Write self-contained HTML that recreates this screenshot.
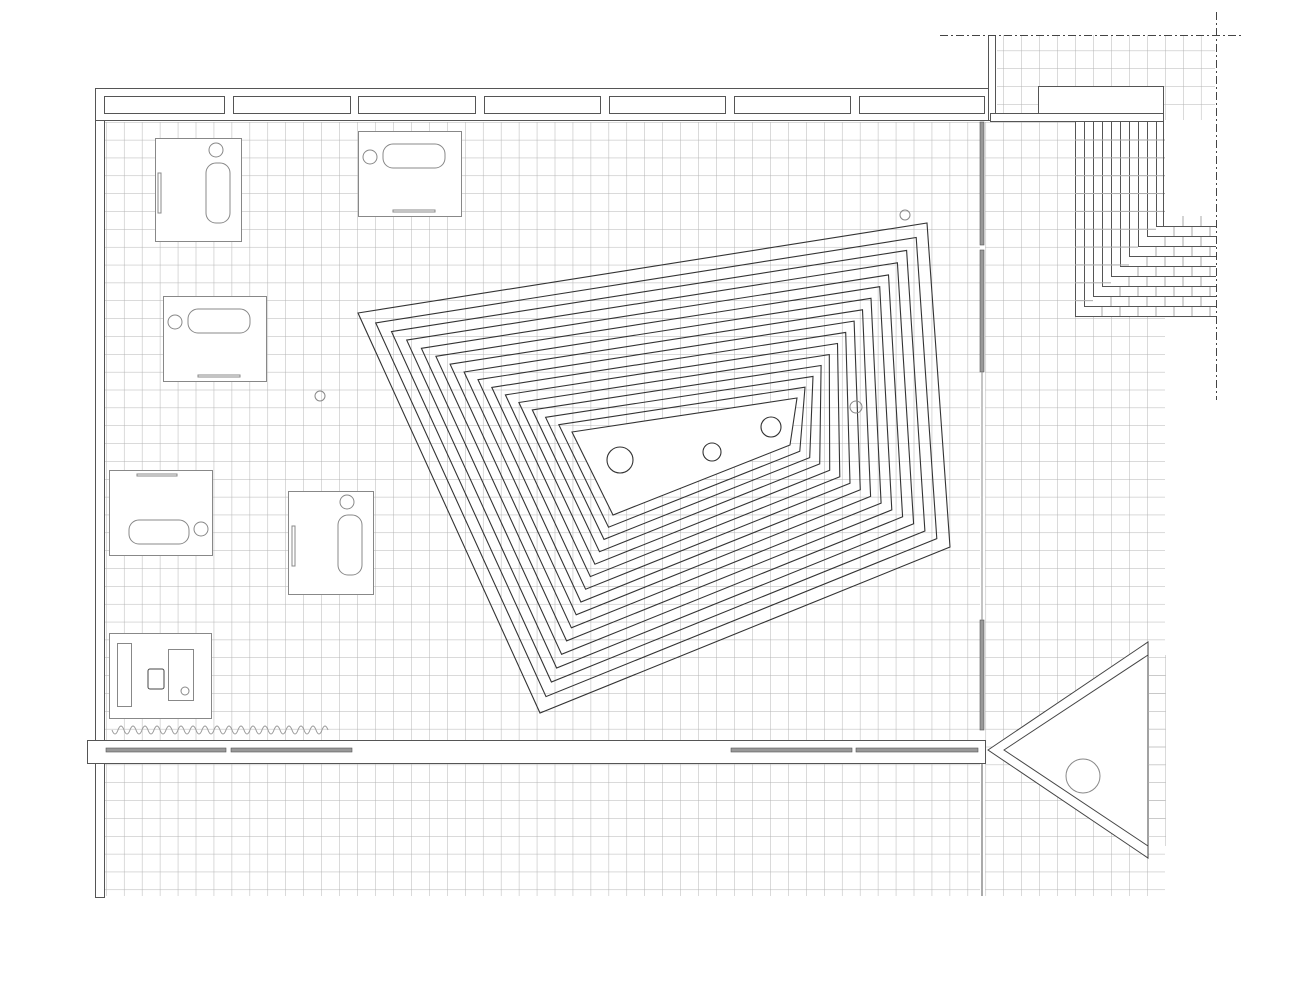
<!DOCTYPE html>
<html><head><meta charset="utf-8"><style>html,body{margin:0;padding:0;background:#fff}svg{display:block}</style></head>
<body>
<svg id="s" width="1315" height="1000" viewBox="0 0 1315 1000" xmlns="http://www.w3.org/2000/svg">
<defs>
<pattern id="g" x="106" y="122" width="17.95" height="17.85" patternUnits="userSpaceOnUse">
<path d="M0 0V17.85M0 0H17.95" stroke="#b4b4b4" stroke-width="1" fill="none"/>
</pattern>
</defs>
<rect width="1315" height="1000" fill="#fff"/>
<!-- grids -->
<rect x="105" y="122" width="875" height="618" fill="url(#g)"/>
<rect x="105" y="764" width="875" height="132" fill="url(#g)"/>
<rect x="985" y="122" width="180" height="774" fill="url(#g)"/>
<rect x="997" y="35" width="218" height="85" fill="url(#g)"/>
<rect x="1165" y="122" width="50" height="195" fill="url(#g)"/>
<g fill="none" stroke="#555" stroke-width="1">
<!-- top wall -->
<rect x="95.5" y="88.5" width="895" height="32" fill="#fff"/>
<rect x="104.5" y="96.5" width="120" height="17"/>
<rect x="233.5" y="96.5" width="117" height="17"/>
<rect x="358.5" y="96.5" width="117" height="17"/>
<rect x="484.5" y="96.5" width="116" height="17"/>
<rect x="609.5" y="96.5" width="116" height="17"/>
<rect x="734.5" y="96.5" width="116" height="17"/>
<rect x="859.5" y="96.5" width="125" height="17"/>
<!-- left wall -->
<rect x="95.5" y="120.5" width="9" height="620" fill="#fff"/>
<rect x="95.5" y="760.5" width="9" height="137" fill="#fff"/>
<!-- right upper wall -->
<rect x="988.5" y="35.5" width="7" height="85" fill="#fff"/>
<rect x="990.5" y="113.5" width="173" height="8" fill="#fff"/>
<rect x="1038.5" y="86.5" width="125" height="27" fill="#fff"/>
<!-- corridor -->
<rect x="87.5" y="740.5" width="898" height="23" fill="#fff"/>
</g>
<line x1="940" y1="35.5" x2="1242" y2="35.5" stroke="#444" stroke-dasharray="8,3,2,3"/>
<line x1="1216.5" y1="12" x2="1216.5" y2="400" stroke="#444" stroke-dasharray="8,3,2,3"/>
<!-- glass -->
<g fill="#999" stroke="#555" stroke-width="0.6">
<rect x="980" y="122" width="4" height="123"/>
<rect x="980" y="250" width="4" height="122"/>
<rect x="980" y="620" width="4" height="110"/>
<rect x="106" y="748" width="120" height="4"/>
<rect x="231" y="748" width="121" height="4"/>
<rect x="731" y="748" width="121" height="4"/>
<rect x="856" y="748" width="122" height="4"/>
</g>
<line x1="982" y1="372" x2="982" y2="620" stroke="#888"/>
<line x1="982" y1="764" x2="982" y2="896" stroke="#aaa" stroke-width="2"/>
<!-- triangle -->
<polygon points="988,750 1148,642 1148,858" fill="#fff" stroke="#444"/>
<polygon points="1004,750 1148,655 1148,846" fill="#fff" stroke="#444"/>
<rect x="1148" y="655" width="18" height="191" fill="url(#g)"/>
<circle cx="1083" cy="776" r="17" fill="none" stroke="#888"/>
<g id="steps" stroke="#555" fill="none" stroke-width="1"></g>
<g id="pyr" stroke="#333" fill="none" stroke-width="1.1"></g>
<g fill="#fff" stroke="#888" stroke-width="1">
<rect x="155.5" y="138.5" width="86" height="103"/>
<circle cx="216" cy="150" r="7" fill="none"/>
<rect x="206" y="163" width="24" height="60" rx="10" fill="none"/>
<rect x="158" y="173" width="3" height="40" fill="none"/>
<rect x="358.5" y="131.5" width="103" height="85"/>
<circle cx="370" cy="157" r="7" fill="none"/>
<rect x="383" y="144" width="62" height="24" rx="10" fill="none"/>
<rect x="393" y="210" width="42" height="2" fill="none"/>
<rect x="163.5" y="296.5" width="103" height="85"/>
<circle cx="175" cy="322" r="7" fill="none"/>
<rect x="188" y="309" width="62" height="24" rx="10" fill="none"/>
<rect x="198" y="375" width="42" height="2" fill="none"/>
<rect x="109.5" y="470.5" width="103" height="85"/>
<circle cx="201" cy="529" r="7" fill="none"/>
<rect x="129" y="520" width="60" height="24" rx="10" fill="none"/>
<rect x="137" y="474" width="40" height="2" fill="none"/>
<rect x="288.5" y="491.5" width="85" height="103"/>
<circle cx="347" cy="502" r="7" fill="none"/>
<rect x="338" y="515" width="24" height="60" rx="10" fill="none"/>
<rect x="292" y="526" width="3" height="40" fill="none"/>
<rect x="109.5" y="633.5" width="102" height="85"/>
<rect x="117.5" y="643.5" width="14" height="63" fill="none"/>
<rect x="168.5" y="649.5" width="25" height="51" fill="none"/>
<circle cx="185" cy="691" r="4" fill="none"/>
<rect x="148" y="669" width="16" height="20" rx="2" fill="none" stroke="#444"/>
<circle cx="320" cy="396" r="5" fill="none"/>
<circle cx="905" cy="215" r="5" fill="none"/>
<circle cx="856" cy="407" r="6" fill="none"/>
</g>
<path id="wave" fill="none" stroke="#999" stroke-width="1"/>
</svg>
<script>
var NS="http://www.w3.org/2000/svg";
function mk(p,t,a){var e=document.createElementNS(NS,t);for(var k in a)e.setAttribute(k,a[k]);p.appendChild(e);return e;}
var O=[[358,313],[927,223],[950,547],[540,713]],I=[[572,432],[797,398],[790,445],[613,515]];
var pyr=document.getElementById('pyr');var N=15;
for(var i=0;i<=N;i++){var t=Math.pow(i/N,0.92);var pts=O.map(function(o,j){return [(o[0]+(I[j][0]-o[0])*t).toFixed(1),(o[1]+(I[j][1]-o[1])*t).toFixed(1)].join(',')}).join(' ');
mk(pyr,'polygon',{points:pts,fill:i==N?'#fff':'none'});}
mk(pyr,'circle',{cx:620,cy:460,r:13,fill:'none'});
mk(pyr,'circle',{cx:712,cy:452,r:9,fill:'none'});
mk(pyr,'circle',{cx:771,cy:427,r:10,fill:'none'});
var st=document.getElementById('steps');
mk(st,'rect',{x:1075,y:122,width:141,height:195,fill:'#fff',stroke:'none'});
for(var i=0;i<10;i++){var x=1075+9*i,y=316-10*i;
mk(st,'path',{d:'M'+(x+.5)+' 122V'+(y+.5)+'H1216'});
for(var yy=140;yy<y;yy+=17.85)mk(st,'line',{x1:x,y1:yy,x2:x+9,y2:yy,stroke:'#aaa'});
for(var xx=1084+((i%2)*9);xx<1216;xx+=18)if(xx>x+9)mk(st,'line',{x1:xx,y1:y-10,x2:xx,y2:y,stroke:'#aaa'});}
mk(st,'path',{d:'M1163.5 122V226.5H1216'});
var d='M112 730';for(var x=112;x<320;x+=12)d+=' q3 8 6 0 q3 -8 6 0';
document.getElementById('wave').setAttribute('d',d);
</script>
</body></html>
